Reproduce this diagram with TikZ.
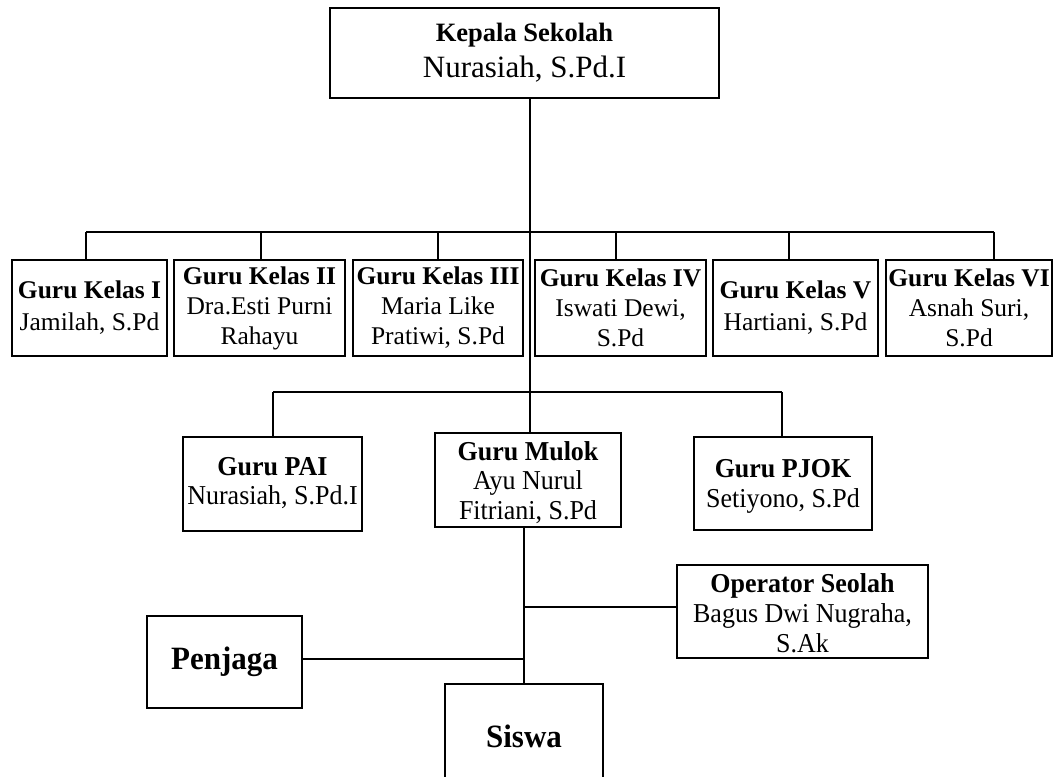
\documentclass[tikz,border=0pt]{standalone}
\usepackage{graphicx}
\usepackage{fontspec}
\setmainfont{Liberation Serif}
% Slightly tall text stack used in the lower rows
\newcommand\tallstack[1]{\scalebox{1}[1.05]{\begin{tabular}{@{}c@{}}#1\end{tabular}}}
% Lower a text block inside its box without changing the box size
\newcommand\lowered[2]{\raisebox{-#1}[\height][\depth]{#2}}
\begin{document}
\begin{tikzpicture}[x=1pt,y=-1pt,
  box/.style={draw, line width=1.8pt, inner sep=0pt, align=center,
    font=\fontsize{25.5}{30}\selectfont},
  lowbox/.style={box, font=\fontsize{26}{28.5}\selectfont},
  bigbox/.style={box, font=\fontsize{31}{36}\selectfont\bfseries},
  link/.style={line width=1.8pt}]
\useasboundingbox (0,0) rectangle (1056,776);

% Head of school
\node[box, minimum width=389pt, minimum height=90pt] (kepala) at (524.5,53)
  {{\fontsize{26.5}{31}\selectfont\textbf{Kepala Sekolah}}\\[6pt]{\fontsize{31}{36}\selectfont Nurasiah, S.Pd.I}};

% Class teachers
\node[box, minimum width=155pt, minimum height=96pt] (k1) at (89.5,308)
  {\textbf{Guru Kelas I}\\[2pt]Jamilah, S.Pd};
\node[box, minimum width=171pt, minimum height=96pt] (k2) at (259.5,308)
  {\textbf{Guru Kelas II}\\Dra.Esti Purni\\Rahayu};
\node[box, minimum width=170pt, minimum height=96pt] (k3) at (438,308)
  {\textbf{Guru Kelas III}\\Maria Like\\Pratiwi, S.Pd};
\node[box, minimum width=171pt, minimum height=96pt] (k4) at (620.5,308)
  {\textbf{Guru Kelas IV}\\Iswati Dewi,\\S.Pd};
\node[box, minimum width=165pt, minimum height=96pt] (k5) at (795.5,308)
  {\textbf{Guru Kelas V}\\[2pt]Hartiani, S.Pd};
\node[box, minimum width=166pt, minimum height=96pt] (k6) at (969,308)
  {\textbf{Guru Kelas VI}\\Asnah Suri,\\S.Pd};

% Subject teachers
\node[lowbox, minimum width=179pt, minimum height=94pt] (pai) at (272.5,484)
  {\tallstack{\textbf{Guru PAI}\\Nurasiah, S.Pd.I}};
\node[lowbox, minimum width=186pt, minimum height=94pt] (mulok) at (528,480)
  {\lowered{4pt}{\tallstack{\textbf{Guru Mulok}\\Ayu Nurul\\Fitriani, S.Pd}}};
\node[lowbox, minimum width=178pt, minimum height=93pt] (pjok) at (783,483.5)
  {\lowered{3pt}{\tallstack{\textbf{Guru PJOK}\\Setiyono, S.Pd}}};

% Staff and students
\node[lowbox, minimum width=251pt, minimum height=93pt] (operator) at (802.5,611.5)
  {\lowered{5pt}{\tallstack{\textbf{Operator Seolah}\\Bagus Dwi Nugraha,\\S.Ak}}};
\node[bigbox, minimum width=155pt, minimum height=92pt] (penjaga) at (224.5,662)
  {\tallstack{Penjaga}};
\node[bigbox, minimum width=158pt, minimum height=112pt] (siswa) at (524,740)
  {\tallstack{Siswa}};

% Bus junctions
\coordinate (b1) at (86,232);
\coordinate (b2) at (261,232);
\coordinate (b3) at (438,232);
\coordinate (b4) at (616,232);
\coordinate (b5) at (789,232);
\coordinate (b6) at (994,232);
\coordinate (spine) at (530,392);
\coordinate (c1) at (273,392);
\coordinate (c3) at (782,392);
\coordinate (s2) at (524,607);
\coordinate (s3) at (524,659);

% Main spine from the head of school
\draw[link] (kepala.south -| spine) -- (spine |- mulok.north);

% Class teacher bus
\draw[link] (b1) -- (b6);
\foreach \b/\k in {b1/k1,b2/k2,b3/k3,b4/k4,b5/k5,b6/k6}
  \draw[link] (\b) -- (\b |- \k.north);

% Subject teacher bus
\draw[link] (c1) -- (c3);
\draw[link] (c1) -- (c1 |- pai.north);
\draw[link] (c3) -- (c3 |- pjok.north);

% Lower spine to students, with staff branches
\draw[link] (mulok.south -| s2) -- (s2 |- siswa.north);
\draw[link] (s2) -- (s2 -| operator.west);
\draw[link] (s3) -- (s3 -| penjaga.east);
\end{tikzpicture}
\end{document}
